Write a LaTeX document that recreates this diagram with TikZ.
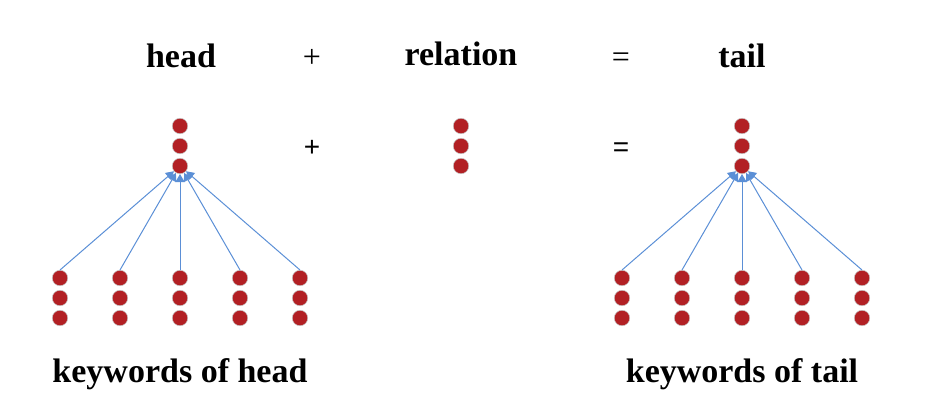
\documentclass[tikz,border=0pt]{standalone}
\usepackage{fontspec}
\setmainfont{Liberation Serif}
\newfontfamily\plainsans{Liberation Sans}
\usepackage{xcolor}
\definecolor{DotRed}{HTML}{B22024}
\definecolor{DotEdge}{HTML}{C8C8C8}
\definecolor{LinkBlue}{HTML}{5B8FD6}
\usetikzlibrary{arrows.meta}

\tikzset{
  dot/.style={circle, fill=DotRed, draw=DotEdge, line width=0.5pt,
    minimum size=15.5pt, inner sep=0pt},
  keylink/.style={draw=LinkBlue, line width=1pt,
    -{Triangle[width=9pt,length=8pt]}},
  title/.style={anchor=base, inner sep=0pt,
    font=\bfseries\fontsize{34}{40}\selectfont},
  sign/.style={anchor=base, inner sep=0pt,
    font=\fontsize{32}{38}\selectfont}
}

\begin{document}
\begin{tikzpicture}[x=1pt, y=-1pt]

\useasboundingbox (0,0) rectangle (933,418);

% ligne du haut
\node[title] (headtitle) at (181,67) {head};
\node[sign] (plustop) at (312,67) {+};
\node[title] (reltitle) at (461,65) {relation};
\node[sign] (eqtop) at (621,67) {=};
\node[title] (tailtitle) at (742,67) {tail};

% vecteurs: tete, relation, queue
\foreach \name/\x in {head/180, rel/461, tail/742} {
  \foreach \i/\y in {1/126, 2/146, 3/166}
    \node[dot] (\name\i) at (\x,\y) {};
}

\node[sign, font=\plainsans\fontsize{28}{34}\selectfont] (plusmid) at (312,156) {+};
\node[sign, font=\plainsans\fontsize{28}{34}\selectfont] (eqmid) at (621,156) {=};

% mots-cles de la tete et de la queue
\foreach \side/\left in {h/60, t/622} {
  \foreach \k in {1,...,5} {
    \pgfmathsetmacro{\xk}{\left+60*(\k-1)}
    \foreach \i/\y in {1/278, 2/298, 3/318}
      \node[dot] (\side\k\i) at (\xk,\y) {};
  }
}

% On trace les liens vers le bas du vecteur du haut.
\foreach \k in {1,...,5} {
  \draw[keylink] (h\k1.north) -- (head3);
  \draw[keylink] (t\k1.north) -- (tail3);
}

\node[title] (headkeys) at (180,382) {keywords of head};
\node[title] (tailkeys) at (742,382) {keywords of tail};

\end{tikzpicture}
\end{document}
